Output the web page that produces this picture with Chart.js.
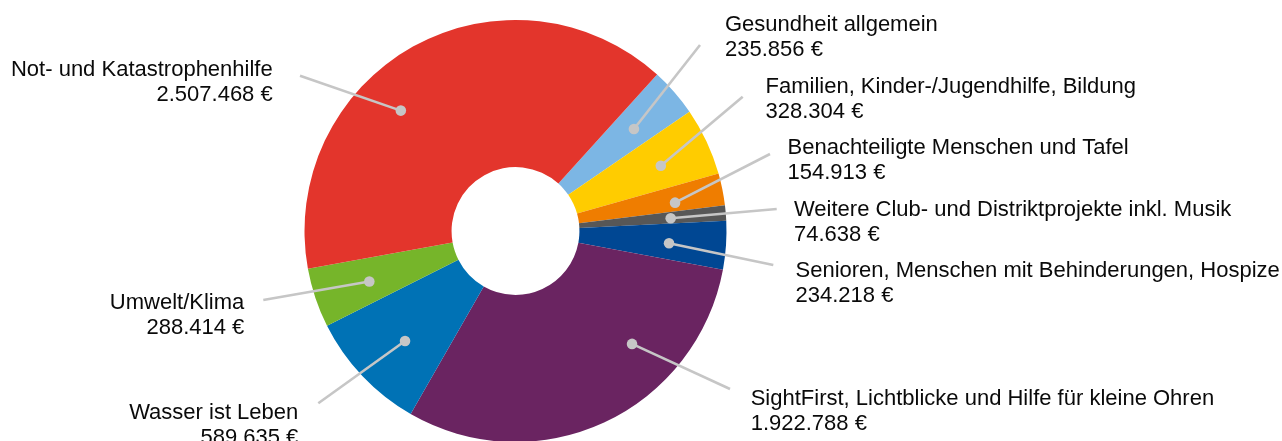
<!DOCTYPE html>
<html lang="de">
<head>
<meta charset="utf-8">
<title>Spendenverteilung</title>
<script src="https://cdn.jsdelivr.net/npm/chart.js@4.4.1/dist/chart.umd.min.js"></script>
<style>
  html, body { margin: 0; padding: 0; background: #fff; overflow: hidden; }
  .wrap { position: relative; width: 1282px; height: 443px; }
</style>
</head>
<body>
<div class="wrap"><canvas id="donut"></canvas></div>
<script>
/* ─── Data ───────────────────────────────────────────────────────────────── */
const CATEGORIES = [
  'Gesundheit allgemein',
  'Familien, Kinder-/Jugendhilfe, Bildung',
  'Benachteiligte Menschen und Tafel',
  'Weitere Club- und Distriktprojekte inkl. Musik',
  'Senioren, Menschen mit Behinderungen, Hospize',
  'SightFirst, Lichtblicke und Hilfe für kleine Ohren',
  'Wasser ist Leben',
  'Umwelt/Klima',
  'Not- und Katastrophenhilfe'
];
const AMOUNTS = [235856, 328304, 154913, 74638, 234218, 1922788, 589635, 288414, 2507468];
const COLORS  = ['#7cb6e4', '#ffcc00', '#ef7d00', '#575757', '#004793', '#6a2461', '#0072b5', '#76b52a', '#e3352c'];

/* ─── Label layout: where the dot sits in its slice, where the text goes ── */
// [fraction along arc, fraction of outer radius, line end x, line end y, text x, align, first line centre y]
const LABEL_LAYOUT = [
  [0.53,  0.741, 700,   45,    725,   'left',  22.8],
  [0.55,  0.755, 742.7, 96.7,  765.5, 'left',  84.7],
  [0.65,  0.768, 770,   154,   787.5, 'left',  146],
  [0.54,  0.738, 776.7, 209,   794,   'left',  208.3],
  [0.55,  0.73,  773.3, 265,   795.5, 'left',  269.3],
  [0.307, 0.769, 730,   389,   750.7, 'left',  396.7],
  [0.457, 0.739, 318.3, 403.3, 298.3, 'right', 410.7],
  [0.466, 0.733, 263.3, 300,   244.3, 'right', 300.7],
  [0.398, 0.788, 300,   75.7,  272.7, 'right', 68.3]
];

const FONT      = '22px "Liberation Sans", Arial, Helvetica, sans-serif';
const LINE_GAP  = 25.2;
const LEADER    = '#c6c6c6';

const euro = v => String(v).replace(/\B(?=(\d{3})+(?!\d))/g, '.') + ' €';

/* ─── Leader lines + labels ──────────────────────────────────────────────── */
const calloutPlugin = {
  id: 'callouts',
  afterDatasetsDraw(chart) {
    const { ctx } = chart;
    const arcs = chart.getDatasetMeta(0).data;
    ctx.save();
    arcs.forEach((arc, i) => {
      const [frac, rf, lx, ly, tx, align, ty] = LABEL_LAYOUT[i];
      const { x, y, startAngle, endAngle, outerRadius } = arc.getProps(['x', 'y', 'startAngle', 'endAngle', 'outerRadius'], true);
      const a  = startAngle + frac * (endAngle - startAngle);
      const dx = x + Math.cos(a) * outerRadius * rf;
      const dy = y + Math.sin(a) * outerRadius * rf;

      ctx.strokeStyle = LEADER;
      ctx.lineWidth = 2.6;
      ctx.beginPath();
      ctx.moveTo(dx, dy);
      ctx.lineTo(lx, ly);
      ctx.stroke();

      ctx.fillStyle = LEADER;
      ctx.beginPath();
      ctx.arc(dx, dy, 5.3, 0, Math.PI * 2);
      ctx.fill();

      ctx.fillStyle = '#0a0a0a';
      ctx.font = FONT;
      ctx.textAlign = align;
      ctx.textBaseline = 'alphabetic';
      ctx.fillText(chart.data.labels[i], tx, ty + 7.9);
      ctx.fillText(euro(chart.data.datasets[0].data[i]), tx, ty + LINE_GAP + 7.9);
    });
    ctx.restore();
  }
};

/* ─── Chart ──────────────────────────────────────────────────────────────── */
new Chart(document.getElementById('donut'), {
  type: 'doughnut',
  data: {
    labels: CATEGORIES,
    datasets: [{
      data:            AMOUNTS,
      backgroundColor: COLORS,
      borderWidth:     0,
      hoverOffset:     0
    }]
  },
  options: {
    responsive: true,
    maintainAspectRatio: false,
    animation: false,
    events: [],
    rotation: 42.15,
    cutout: '30.3%',
    layout: { padding: { left: 304.5, right: 555.5, top: 20, bottom: 1 } },
    plugins: {
      legend:  { display: false },
      tooltip: { enabled: false }
    }
  },
  plugins: [calloutPlugin]
});
</script>
</body>
</html>
